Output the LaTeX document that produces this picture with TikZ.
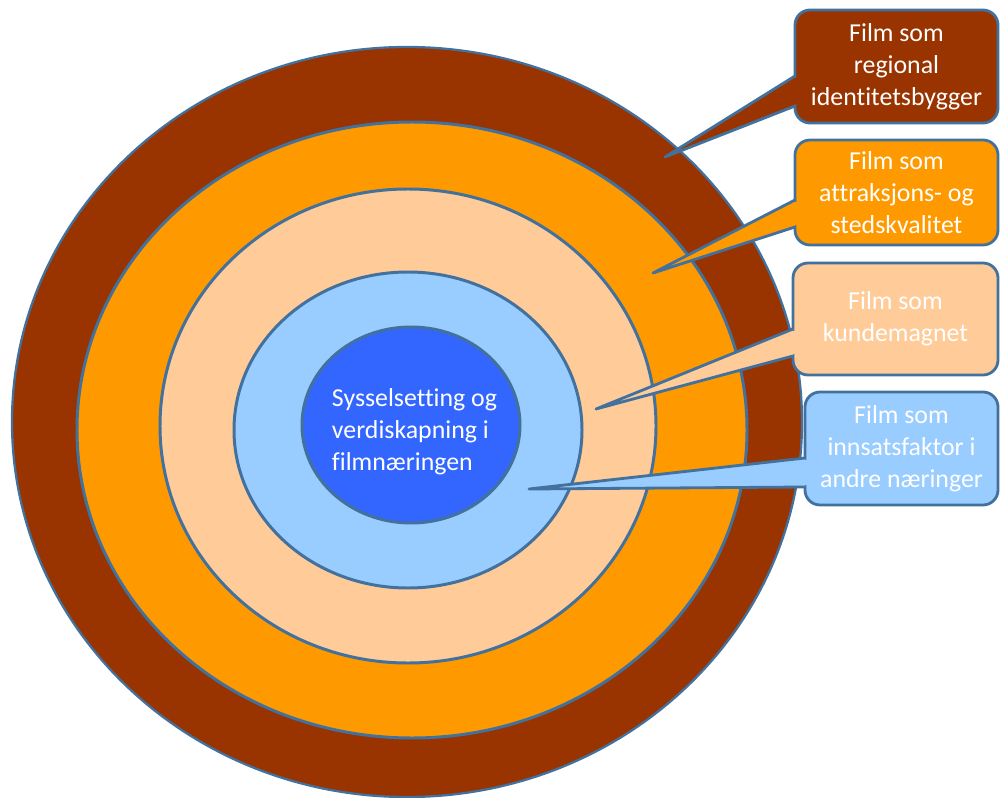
\documentclass[tikz,border=0pt]{standalone}
\usepackage{fontspec}
\setmainfont{Carlito}[Ligatures=NoCommon]
\usetikzlibrary{calc}

\definecolor{ringbrown}{HTML}{993300}
\definecolor{ringorange}{HTML}{FF9900}
\definecolor{ringpeach}{HTML}{FFCC99}
\definecolor{ringsky}{HTML}{99CCFF}
\definecolor{ringcore}{HTML}{3366FF}
\definecolor{edgeblue}{HTML}{41719C}

\begin{document}
\begin{tikzpicture}[x=0.2mm, y=-0.2mm,
    ring/.style={draw=edgeblue, line width=1.7pt},
    bubble/.style={draw=edgeblue, line width=1.6pt, rounded corners=3mm,
        text=white, align=center, inner sep=0pt, outer sep=0pt,
        font=\fontsize{14.7}{18.2}\selectfont},
    tail/.style={draw=edgeblue, line width=1.6pt, line join=round}]
    \useasboundingbox (0,0) rectangle (1000,798);
    % rings, outside in
    \filldraw[ring, line width=1.3pt, fill=ringbrown] (407,422) ellipse [x radius=395, y radius=375];
    \filldraw[ring, fill=ringorange] (412,430) ellipse [x radius=335, y radius=308];
    \filldraw[ring, fill=ringpeach] (408,426) ellipse [x radius=248, y radius=237];
    \filldraw[ring, fill=ringsky] (408,430) ellipse [x radius=174, y radius=158];
    \filldraw[ring, fill=ringcore] (411,425) ellipse [x radius=109, y radius=98];
    \node[text=white, align=left, inner sep=0pt, font=\fontsize{14.7}{18.2}\selectfont] (core) at (414.5,432) {Sysselsetting og\\verdiskapning i\\filmnæringen};
    % callouts
    \node[bubble, fill=ringbrown, minimum width=40.6mm, minimum height=22.6mm] (regional) at (896.5,66.5) {Film som\\regional\\identitetsbygger};
    \node[bubble, fill=ringorange, minimum width=40.6mm, minimum height=21mm] (attraksjon) at (896.5,192.5) {Film som\\attraksjons- og\\stedskvalitet};
    \node[bubble, fill=ringpeach, minimum width=41mm, minimum height=22.4mm] (kunde) at (895.5,319) {Film som\\kundemagnet};
    \node[bubble, fill=ringsky, minimum width=38.6mm, minimum height=22.6mm] (innsats) at (901.5,448.5) {Film som\\innsatsfaktor i\\andre næringer};
    \coordinate (regionaltip) at (665,157);
    \coordinate (attraksjontip) at (653,273);
    \coordinate (kundetip) at (596,409);
    \coordinate (innsatstip) at (529,489);
    % pointers
    \fill[ringbrown] ($(regional.west)+(0,9.5)$) -- (regionaltip) -- ($(regional.west)+(0,39.5)$) -- cycle;
    \draw[tail] ($(regional.west)+(0,9.5)$) -- (regionaltip) -- ($(regional.west)+(0,39.5)$);
    \fill[ringbrown] ($(regional.west)+(-1.5,11.5)$) rectangle ($(regional.west)+(4,37.5)$);
    \fill[ringorange] ($(attraksjon.west)+(0,7.5)$) -- (attraksjontip) -- ($(attraksjon.west)+(0,34.5)$) -- cycle;
    \draw[tail] ($(attraksjon.west)+(0,7.5)$) -- (attraksjontip) -- ($(attraksjon.west)+(0,34.5)$);
    \fill[ringorange] ($(attraksjon.west)+(-1.5,9.5)$) rectangle ($(attraksjon.west)+(4,32.5)$);
    \fill[ringpeach] ($(kunde.west)+(0,10)$) -- (kundetip) -- ($(kunde.west)+(0,37)$) -- cycle;
    \draw[tail] ($(kunde.west)+(0,10)$) -- (kundetip) -- ($(kunde.west)+(0,37)$);
    \fill[ringpeach] ($(kunde.west)+(-1.5,12)$) rectangle ($(kunde.west)+(4,35)$);
    \fill[ringsky] ($(innsats.west)+(0,9.5)$) -- (innsatstip) -- ($(innsats.west)+(0,38.5)$) -- cycle;
    \draw[tail] ($(innsats.west)+(0,9.5)$) -- (innsatstip) -- ($(innsats.west)+(0,38.5)$);
    \fill[ringsky] ($(innsats.west)+(-1.5,11.5)$) rectangle ($(innsats.west)+(4,36.5)$);
\end{tikzpicture}
\end{document}
